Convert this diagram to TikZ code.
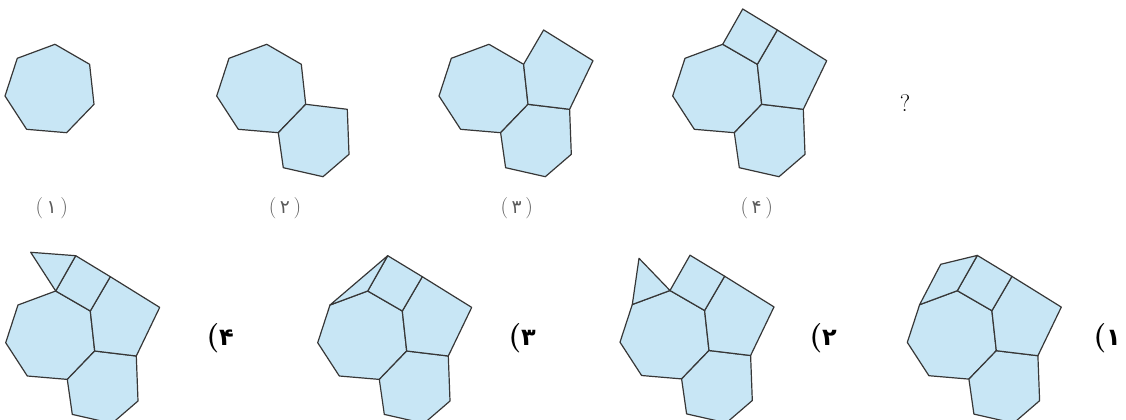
\documentclass[tikz,border=0pt]{standalone}
\usepackage{fontspec}
\newfontfamily\farsifont[Script=Arabic]{DejaVu Sans}
\definecolor{tileblue}{RGB}{200,230,245}
\definecolor{edgegray}{RGB}{55,55,55}
\definecolor{labelgray}{RGB}{90,90,90}

\tikzset{
  tile/.style={fill=tileblue,draw=edgegray,line width=0.9pt,line join=round},
  steplabel/.style={text=labelgray,font=\fontsize{16}{18}\selectfont},
  choicelabel/.style={text=black,font=\fontsize{22}{24}\selectfont\bfseries}
}

% corner points of the tiles, relative to the top corner of the heptagon
\newcommand{\setcorners}{%
  \coordinate (h1) at (0,0);
  \coordinate (h2) at (-37.7,14);
  \coordinate (h3) at (-50,51.7);
  \coordinate (h4) at (-28.4,85);
  \coordinate (h5) at (11.6,88.4);
  \coordinate (h6) at (39,60);
  \coordinate (h7) at (34.6,20);
  \coordinate (s1) at (20,-35.3);
  \coordinate (s2) at (54.6,-14.3);
  \coordinate (p3) at (104,16.4);
  \coordinate (p4) at (80.6,65);
  \coordinate (x3) at (82.3,110);
  \coordinate (x4) at (56.3,132.4);
  \coordinate (x5) at (16.6,123.4);
}
\newcommand{\heptagonA}{\draw[tile] (h1)--(h2)--(h3)--(h4)--(h5)--(h6)--(h7)--cycle;}
\newcommand{\hexagonA}{\draw[tile] (h6)--(p4)--(x3)--(x4)--(x5)--(h5)--cycle;}
\newcommand{\pentagonA}{\draw[tile] (h7)--(s2)--(p3)--(p4)--(h6)--cycle;}
\newcommand{\squareA}{\draw[tile] (h1)--(s1)--(s2)--(h7)--cycle;}
\newcommand{\allfour}{\heptagonA \hexagonA \pentagonA \squareA}
\newcommand{\stepnum}[1]{(\,{\farsifont\fontsize{14}{16}\selectfont #1}\,)}
\newcommand{\choicenum}[1]{({\farsifont\fontsize{18}{20}\selectfont #1}}

\begin{document}
\begin{tikzpicture}[x=0.75pt,y=-0.75pt]
\useasboundingbox (0,0) rectangle (1126,420);

% the sequence
\begin{scope}[shift={(55,44.3)}]
\setcorners
\heptagonA
\end{scope}
\begin{scope}[shift={(266.7,44.3)}]
\setcorners
\heptagonA \hexagonA
\end{scope}
\begin{scope}[shift={(489,44.3)}]
\setcorners
\heptagonA \hexagonA \pentagonA
\end{scope}
\begin{scope}[shift={(722.7,44.3)}]
\setcorners
\allfour
\end{scope}

\node[steplabel] (lab1) at (51.7,208) {\stepnum{۱}};
\node[steplabel] (lab2) at (285,208) {\stepnum{۲}};
\node[steplabel] (lab3) at (516.7,208) {\stepnum{۳}};
\node[steplabel] (lab4) at (756.7,208) {\stepnum{۴}};
\node[font=\fontsize{18}{20}\selectfont] (qmark) at (905,103) {?};

% the choices
\begin{scope}[shift={(55.7,291)}]
\setcorners
\allfour
\draw[tile] (h1)--(-25,-38.7)--(s1)--cycle;
\end{scope}
\begin{scope}[shift={(367.7,291)}]
\setcorners
\allfour
\draw[tile] (h2)--(s1)--(h1)--cycle;
\end{scope}
\begin{scope}[shift={(670,290.5)}]
\setcorners
\allfour
\draw[tile] (h2)--(-31,-32.2)--(h1)--cycle;
\end{scope}
\begin{scope}[shift={(957.3,290.7)}]
\setcorners
\allfour
\draw[tile] (h2)--(-16.6,-26.4)--(s1)--(h1)--cycle;
\end{scope}

\node[choicelabel] (opt4) at (220,338) {\choicenum{۴}};
\node[choicelabel] (opt3) at (522,338) {\choicenum{۳}};
\node[choicelabel] (opt2) at (823,338) {\choicenum{۲}};
\node[choicelabel] (opt1) at (1107,338) {\choicenum{۱}};
\end{tikzpicture}
\end{document}
